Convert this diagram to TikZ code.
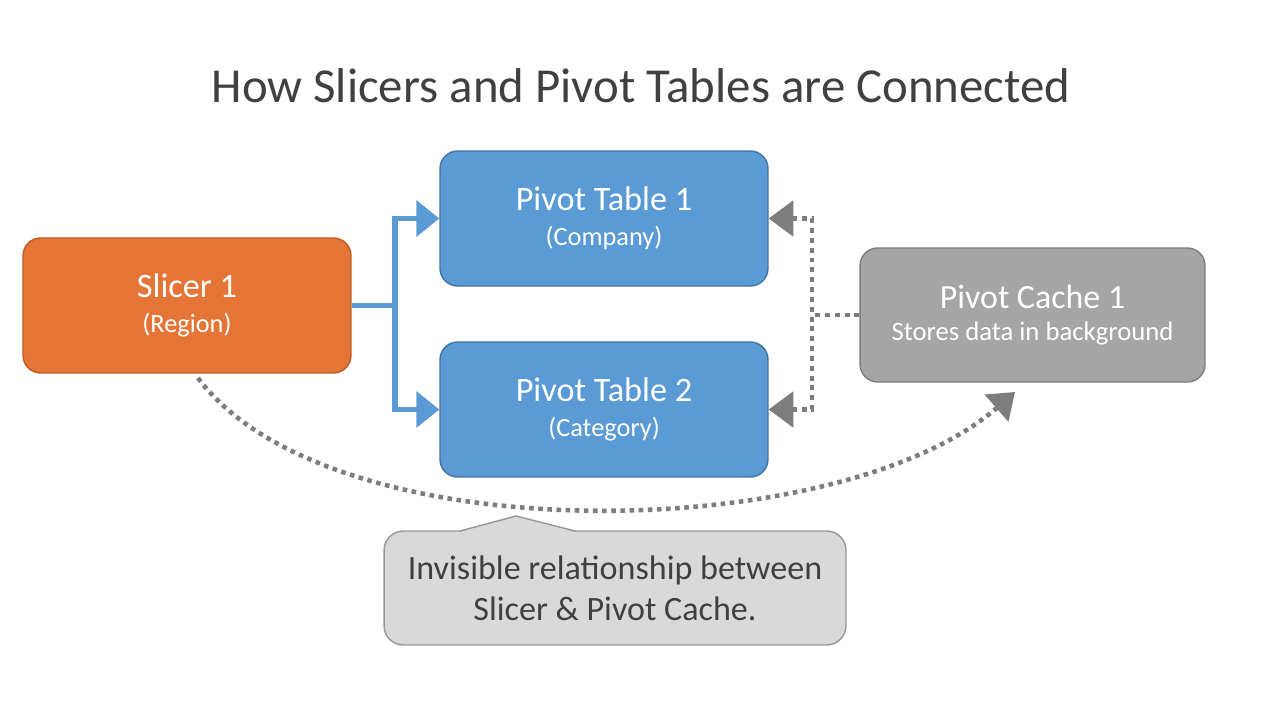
\documentclass[tikz,border=0pt]{standalone}
\usepackage{fontspec}
\setmainfont{Carlito}
\usetikzlibrary{arrows.meta}
\definecolor{slicerorange}{RGB}{229,117,55}
\definecolor{slicerline}{RGB}{190,92,38}
\definecolor{pivotblue}{RGB}{91,155,213}
\definecolor{pivotline}{RGB}{66,114,160}
\definecolor{cachegray}{RGB}{165,165,165}
\definecolor{cacheline}{RGB}{125,125,125}
\definecolor{notefill}{RGB}{217,217,217}
\definecolor{noteline}{RGB}{150,150,150}
\definecolor{dotgray}{RGB}{125,125,125}
\definecolor{textgray}{RGB}{64,64,64}
\begin{document}
\begin{tikzpicture}[x=0.02cm, y=-0.02cm,
    box/.style={rounded corners=10pt, line width=0.8pt, text=white, align=center,
        minimum width=6.56cm, minimum height=2.7cm, inner sep=0pt},
    bluelink/.style={pivotblue, line width=3.4pt, line join=miter,
        -{Triangle[length=13pt,width=20pt]}},
    graylink/.style={dotgray, line width=2.8pt, dash pattern=on 2.8pt off 2.8pt,
        -{Triangle[length=14pt,width=20pt]}}]
    % page
    \useasboundingbox (0,0) rectangle (1280,720);
    \fill[white] (0,0) rectangle (1280,720);
    % title
    \node[textgray, font=\fontsize{27.8}{32}\selectfont] (title) at (641,86) {How Slicers and Pivot Tables are Connected};
    % boxes
    \node[box, fill=slicerorange, draw=slicerline] (slicer) at (187,305.5)
        {{\fontsize{19.5}{22}\selectfont Slicer 1}\\[8pt]{\fontsize{15}{18}\selectfont (Region)}};
    \node[box, fill=pivotblue, draw=pivotline] (ptone) at (604,218.5)
        {{\fontsize{19.5}{22}\selectfont Pivot Table 1}\\[8pt]{\fontsize{15}{18}\selectfont (Company)}};
    \node[box, fill=pivotblue, draw=pivotline] (pttwo) at (604,409.5)
        {{\fontsize{19.5}{22}\selectfont Pivot Table 2}\\[8pt]{\fontsize{15}{18}\selectfont (Category)}};
    \node[box, fill=cachegray, draw=cacheline, minimum width=6.9cm, minimum height=2.68cm] (cache) at (1032.5,315)
        {{\fontsize{19.3}{22}\selectfont Pivot Cache 1}\\[6pt]{\fontsize{15.2}{18}\selectfont Stores data in background}};
    % slicer -> pivot tables
    \coordinate (bsplit) at (395,305.5);
    \draw[bluelink, {Triangle[length=13pt,width=20pt]}-{Triangle[length=13pt,width=20pt]}]
        (ptone.west) -| (bsplit) |- (pttwo.west);
    \draw[pivotblue, line width=3.4pt] (slicer.east) -- (bsplit);
    % cache -> pivot tables
    \coordinate (gsplit) at (812,315);
    \draw[graylink, {Triangle[length=14pt,width=20pt]}-{Triangle[length=14pt,width=20pt]}]
        (ptone.east) -| (gsplit) |- (pttwo.east);
    \draw[dotgray, line width=2.8pt, dash pattern=on 2.8pt off 2.8pt] (cache.west) -- (gsplit);
    % hidden link slicer -> cache
    \coordinate (curvestart) at (198,378);
    \coordinate (curveend) at (1015,392);
    \draw[graylink, dash pattern=on 2.6pt off 2.6pt, line width=2.6pt]
        (curvestart) .. controls (330,555) and (840,545) .. (curveend);
    % callout
    \node[fill=notefill, draw=noteline, line width=0.8pt, rounded corners=11pt,
        minimum width=9.24cm, minimum height=2.28cm, align=center, text=textgray,
        font=\fontsize{19.4}{23.5}\selectfont] (note) at (615,588)
        {Invisible relationship between\\Slicer \& Pivot Cache.};
    \fill[notefill] (460,532) -- (516,516) -- (575,532) -- cycle;
    \draw[noteline, line width=0.8pt] (460,531) -- (516,516) -- (575,531);
\end{tikzpicture}
\end{document}
